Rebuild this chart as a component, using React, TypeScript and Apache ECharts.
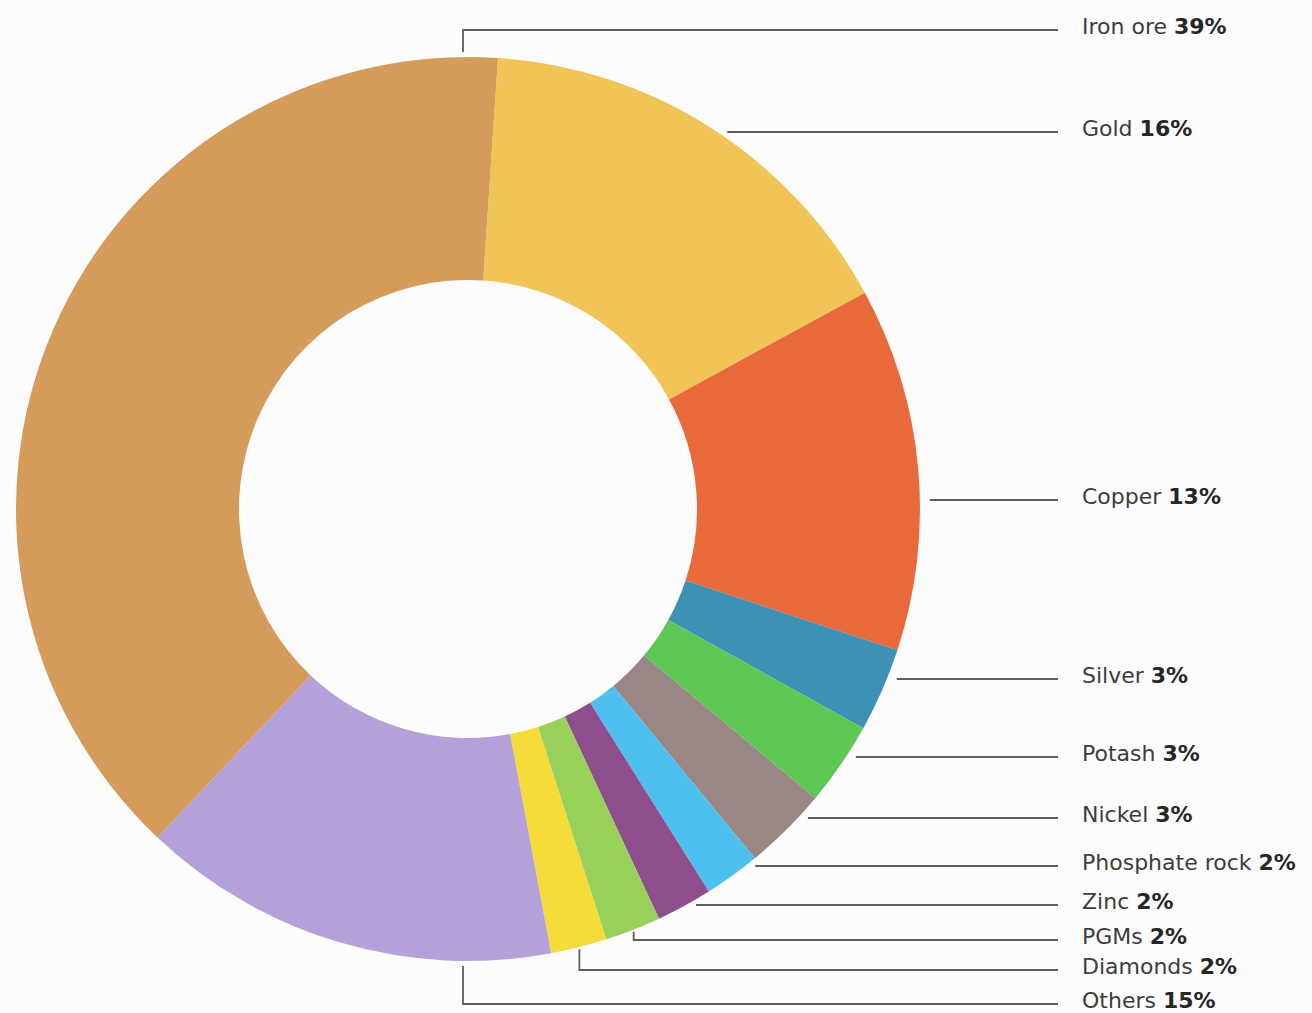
import React, { useEffect, useRef } from 'react';
import * as echarts from 'echarts';

// ---- data (clockwise from the top) ----
const categories = ['Gold', 'Copper', 'Silver', 'Potash', 'Nickel', 'Phosphate rock', 'Zinc', 'PGMs', 'Diamonds', 'Others', 'Iron ore'];
const shares = [16, 13, 3, 3, 3, 2, 2, 2, 2, 15, 39];
const colors = ['#F0C457', '#E8693A', '#3D91B5', '#5FC855', '#9A8784', '#4DC0EE', '#8E4E8E', '#97D15A', '#F5DC3A', '#B4A1DA', '#D49B5A'];

// ---- layout ----
const CX = 468;
const CY = 509;
const R_OUT = 452;
const R_IN = 229;
const START_ANGLE = 86.2;
const LABEL_X = 1082;
const LINE_END_X = 1058;
const labelLineY = [132, 500, 679, 757, 818, 866, 905, 940, 970, 1004, 30];
const leaderMode = ['h', 'h', 'h', 'h', 'h', 'h', 'h', 'mid', 'mid', 'x', 'x'];
const LEADER_FIXED_X = 463;
const FONT = '"DejaVu Sans", sans-serif';

export default function App() {
  const ref = useRef<HTMLDivElement>(null);

  useEffect(() => {
    if (!ref.current) return;
    const chart = echarts.init(ref.current, undefined, { renderer: 'svg' });
    const total = shares.reduce((a, b) => a + b, 0);

    const midAngle = (i: number) => {
      let cum = 0;
      for (let k = 0; k < i; k++) cum += shares[k];
      const clockFromTop = (90 - START_ANGLE) + ((cum + shares[i] / 2) / total) * 360;
      return (clockFromTop * Math.PI) / 180;
    };

    chart.setOption({
      animation: false,
      backgroundColor: '#fcfcfc',
      series: [
        {
          type: 'pie',
          center: [CX, CY],
          radius: [R_IN, R_OUT],
          startAngle: START_ANGLE,
          clockwise: true,
          avoidLabelOverlap: false,
          emphasis: { disabled: true },
          data: categories.map((name, i) => ({
            name,
            value: shares[i],
            itemStyle: { color: colors[i] },
          })),
          label: {
            show: true,
            position: 'outer',
            width: 300,
            overflow: 'none',
            formatter: (p: any) => `{n|${p.name}\u00a0}{v|${p.value}%}`,
            rich: {
              n: { fontFamily: FONT, fontSize: 22, color: '#3c3c3c' },
              v: { fontFamily: FONT, fontSize: 22, color: '#262626', fontWeight: 'bold' },
            },
          },
          labelLine: {
            show: true,
            smooth: false,
            lineStyle: { color: '#5e5e5e', width: 1.8 },
          },
          labelLayout: (params: any) => {
            const i = params.dataIndex;
            const y = labelLineY[i];
            let pts: number[][];
            if (leaderMode[i] === 'h') {
              const dy = y - CY;
              const sx = CX + Math.sqrt(Math.max(0, R_OUT * R_OUT - dy * dy)) + 10;
              pts = [[sx, y], [(sx + LINE_END_X) / 2, y], [LINE_END_X, y]];
            } else if (leaderMode[i] === 'mid') {
              const a = midAngle(i);
              const sx = CX + (R_OUT + 2) * Math.sin(a);
              const sy = CY - (R_OUT + 2) * Math.cos(a);
              pts = [[sx, sy], [sx, y], [LINE_END_X, y]];
            } else {
              const dx = LEADER_FIXED_X - CX;
              const h = Math.sqrt(R_OUT * R_OUT - dx * dx) + 5;
              const sy = y < CY ? CY - h : CY + h;
              pts = [[LEADER_FIXED_X, sy], [LEADER_FIXED_X, y], [LINE_END_X, y]];
            }
            return {
              x: LABEL_X,
              y: y - 4,
              align: 'left',
              verticalAlign: 'middle',
              labelLinePoints: pts,
            };
          },
        },
      ],
    });

    return () => chart.dispose();
  }, []);

  return (
    <div
      ref={ref}
      style={{ position: 'absolute', left: 0, top: 0, width: 1312, height: 1013 }}
    />
  );
}
